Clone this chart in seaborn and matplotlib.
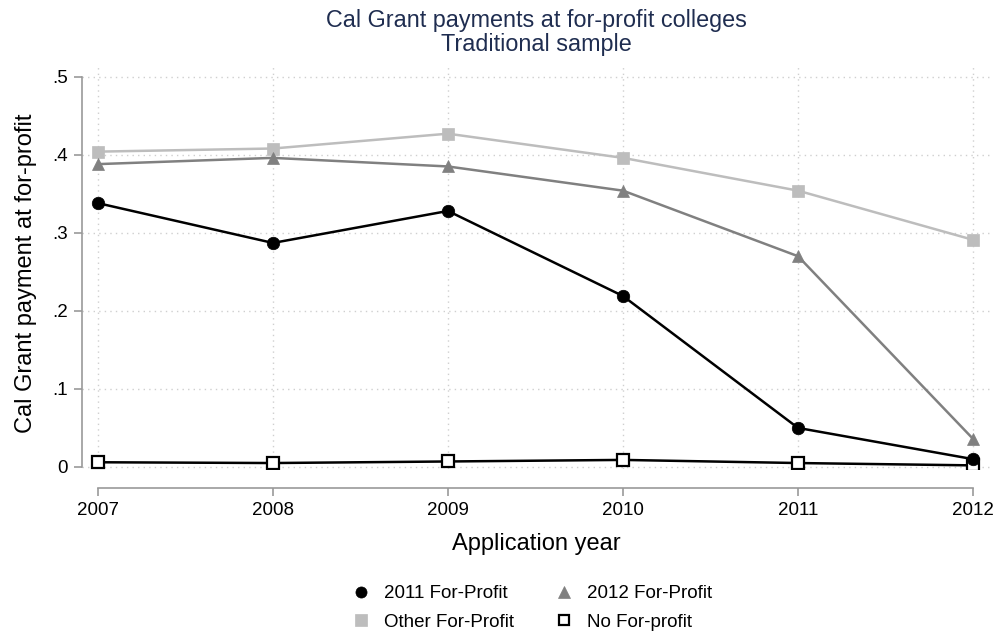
import matplotlib
matplotlib.use("Agg")
import matplotlib.pyplot as plt
from matplotlib.lines import Line2D
import pandas as pd
import seaborn as sns

YEARS = [2007, 2008, 2009, 2010, 2011, 2012]
FP_2011 = [0.338, 0.287, 0.328, 0.219, 0.050, 0.010]
FP_2012 = [0.388, 0.396, 0.385, 0.354, 0.270, 0.036]
OTHER_FP = [0.404, 0.408, 0.427, 0.396, 0.354, 0.291]
NO_FP = [0.006, 0.005, 0.007, 0.009, 0.005, 0.002]

SERIES = ["2011 For-Profit", "2012 For-Profit", "Other For-Profit", "No For-profit"]
Y_TICKS = [0, 0.1, 0.2, 0.3, 0.4, 0.5]
Y_TICK_LABELS = ["0", ".1", ".2", ".3", ".4", ".5"]

# marker, line colour, face colour, edge colour, marker size
STYLES = {
    "2011 For-Profit": ("o", "#000000", "#000000", "#000000", 9),
    "2012 For-Profit": ("^", "#808080", "#808080", "#808080", 9),
    "Other For-Profit": ("s", "#bdbdbd", "#bdbdbd", "#bdbdbd", 9),
    "No For-profit": ("s", "#000000", "white", "#000000", 8),
}


def build_frame():
    rows = []
    for name, vals in zip(SERIES, [FP_2011, FP_2012, OTHER_FP, NO_FP]):
        for yr, v in zip(YEARS, vals):
            rows.append({"year": yr, "value": v, "group": name})
    return pd.DataFrame(rows)


def main():
    sns.set_theme(style="white")
    plt.rcParams["font.family"] = ["Liberation Sans", "DejaVu Sans"]
    plt.rcParams["text.color"] = "black"
    plt.rcParams["axes.labelcolor"] = "black"
    df = build_frame()

    fig = plt.figure(figsize=(9.97, 6.32), dpi=100)
    ax = fig.add_axes([82 / 997, 1 - 468.5 / 632, 908 / 997, 403.5 / 632])

    # draw in reverse so darker series sit on top
    for name in SERIES[::-1]:
        mk, lc, fc, ec, ms = STYLES[name]
        sub = df[df["group"] == name]
        sns.lineplot(data=sub, x="year", y="value", ax=ax, color=lc,
                     marker=mk, markersize=ms, markerfacecolor=fc,
                     markeredgecolor=ec, markeredgewidth=1.6 if fc == "white" else 0.5,
                     linewidth=1.8, legend=False)

    ax.set_xlim(2006.909, 2012.097)
    ax.set_ylim(-0.002, 0.515)
    ax.set_xticks(YEARS)
    ax.set_xticklabels([str(y) for y in YEARS])
    ax.set_yticks(Y_TICKS)
    ax.set_yticklabels(Y_TICK_LABELS)

    ax.grid(True, linestyle=(0, (1, 3)), color="#cfcfcf", linewidth=1)
    for s in ["top", "right"]:
        ax.spines[s].set_visible(False)
    ax.spines["left"].set_bounds(0, 0.5)
    ax.spines["bottom"].set_bounds(2007, 2012)
    ax.spines["bottom"].set_position(("outward", 14))
    for s in ["left", "bottom"]:
        ax.spines[s].set_color("#999999")
        ax.spines[s].set_linewidth(1.2)
    ax.tick_params(axis="both", direction="out", length=6, width=1.2,
                   color="#999999", labelcolor="black", labelsize=13.5, pad=4,
                   bottom=True, left=True)

    ax.set_xlabel("Application year", fontsize=17, labelpad=10, color="black")
    ax.set_ylabel("Cal Grant payment at for-profit", fontsize=17, color="black")
    ax.yaxis.set_label_coords(-0.05, 0.485)

    fig.text(536 / 997, 1 - 21 / 632, "Cal Grant payments at for-profit colleges",
             ha="center", va="center", fontsize=16.8, color="#1f2d50")
    fig.text(536 / 997, 1 - 44 / 632, "Traditional sample",
             ha="center", va="center", fontsize=16.8, color="#1f2d50")

    # legend fills row by row: 2011, 2012 / Other, No
    order = [SERIES[0], SERIES[2], SERIES[1], SERIES[3]]
    handles = []
    for name in order:
        mk, lc, fc, ec, ms = STYLES[name]
        handles.append(Line2D([], [], linestyle="none", marker=mk, markersize=ms - 1,
                              markerfacecolor=fc, markeredgecolor=ec,
                              markeredgewidth=1.6 if fc == "white" else 0.5))
    leg = fig.legend(handles, order, loc="center", bbox_to_anchor=(532 / 997, 1 - 608 / 632),
                     ncol=2, frameon=False, fontsize=13.5, handlelength=1.0,
                     handletextpad=0.7, columnspacing=2.2, labelspacing=0.6)
    for t in leg.get_texts():
        t.set_color("black")

    fig.savefig("out.png", dpi=100)
    plt.close(fig)


if __name__ == "__main__":
    main()
